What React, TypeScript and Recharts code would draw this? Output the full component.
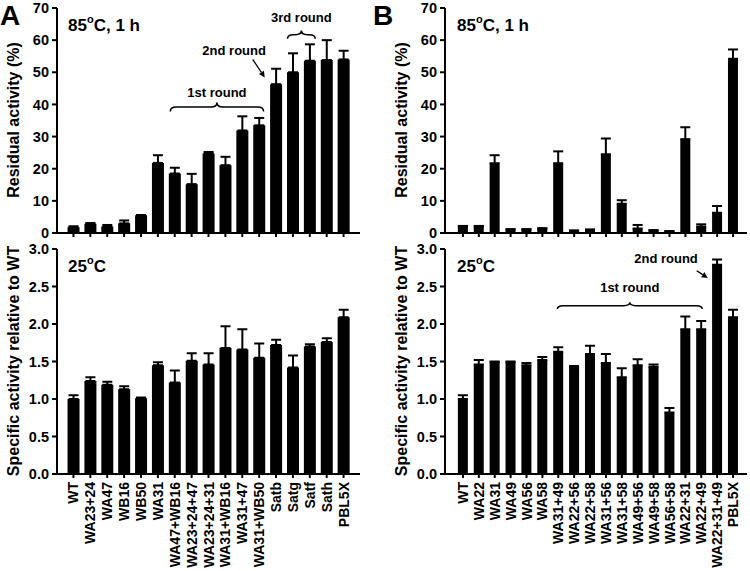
import React from "react";
import { BarChart, Bar, XAxis, YAxis, ErrorBar, ReferenceArea } from "recharts";

// panel A: variants and combinations
const namesA = ["WT", "WA23+24", "WA47", "WB16", "WB50", "WA31", "WA47+WB16", "WA23+24+47", "WA23+24+31", "WA31+WB16", "WA31+47", "WA31+WB50", "Satb", "Satg", "Satf", "Sath", "PBL5X"];
const residualA = [1.8, 2.9, 2.0, 3.0, 5.5, 21.8, 18.5, 15.2, 24.7, 21.1, 31.9, 33.5, 46.3, 50.0, 53.6, 53.8, 54.0];
const residualErrA = [0.3, 0.2, 0.5, 0.9, 0.1, 2.4, 1.8, 3.2, 0.5, 2.6, 4.4, 2.3, 4.8, 5.9, 5.1, 6.2, 2.7];
const specificA = [1.0, 1.24, 1.19, 1.13, 1.01, 1.45, 1.22, 1.51, 1.46, 1.68, 1.66, 1.55, 1.72, 1.42, 1.7, 1.76, 2.09];
const specificErrA = [0.05, 0.05, 0.04, 0.04, 0.01, 0.04, 0.16, 0.1, 0.15, 0.29, 0.27, 0.19, 0.07, 0.16, 0.03, 0.05, 0.1];

// panel B
const namesB = ["WT", "WA22", "WA31", "WA49", "WA56", "WA58", "WA31+49", "WA22+56", "WA22+58", "WA31+56", "WA31+58", "WA49+56", "WA49+58", "WA56+58", "WA22+31", "WA22+49", "WA22+31+49", "PBL5X"];
const residualB = [2.0, 2.0, 21.7, 1.1, 1.1, 1.4, 21.7, 0.7, 1.0, 24.5, 9.1, 1.4, 0.8, 0.5, 29.2, 2.0, 6.3, 54.2];
const residualErrB = [0.2, 0.2, 2.5, 0.1, 0.1, 0.1, 3.7, 0.1, 0.1, 4.9, 1.1, 1.1, 0.1, 0.1, 3.7, 0.7, 2.1, 2.9];
const specificB = [1.0, 1.46, 1.49, 1.49, 1.45, 1.52, 1.63, 1.42, 1.6, 1.48, 1.29, 1.45, 1.43, 0.82, 1.93, 1.93, 2.79, 2.09];
const specificErrB = [0.05, 0.06, 0.01, 0.01, 0.03, 0.04, 0.06, 0.02, 0.11, 0.12, 0.12, 0.08, 0.03, 0.06, 0.17, 0.11, 0.07, 0.1];

const residualTicks = [0, 10, 20, 30, 40, 50, 60, 70];
const specificTicks = [0, 0.5, 1, 1.5, 2, 2.5, 3];

const FONT = "'Liberation Sans', Arial, Helvetica, sans-serif";
const axisStyle = { stroke: "#000", strokeWidth: 2 };

const rows = (names: string[], vals: number[], errs: number[]) =>
  names.map((name, i) => ({ name, value: vals[i], err: [0, errs[i]] }));

const NoTick = () => <g />;

const RotTick = (props: any) => {
  const { x, y, payload } = props;
  return (
    <text x={x} y={y} transform={`rotate(-90, ${x}, ${y})`} textAnchor="end" dy="0.36em"
      fontSize={14} fontWeight="bold" fontFamily={FONT} fill="#000">
      {payload.value}
    </text>
  );
};

const braceShape = (label: string, inset: number, gap: number) => (p: any) => {
  const { x, y, width, height } = p;
  const x0 = x + inset;
  const x1 = x + width - inset;
  const xm = (x0 + x1) / 2;
  const yt = y;
  const yb = y + height;
  const ym = (yt + yb) / 2;
  const r = Math.min(6, (x1 - x0) / 4);
  const d = `M${x0},${yb} Q${x0},${ym} ${x0 + r},${ym} L${xm - r},${ym} Q${xm},${ym} ${xm},${yt} Q${xm},${ym} ${xm + r},${ym} L${x1 - r},${ym} Q${x1},${ym} ${x1},${yb}`;
  return (
    <g>
      <path d={d} fill="none" stroke="#000" strokeWidth={1.5} />
      <text x={xm} y={yt - gap} textAnchor="middle" fontSize={13} fontWeight="bold" fontFamily={FONT} fill="#000">
        {label}
      </text>
    </g>
  );
};

const arrowShape = (label: string, f0: number, f1: number, fText: number, gap: number) => (p: any) => {
  const { x, y, width, height } = p;
  const ax = x + f0 * width;
  const ay = y;
  const bx = x + f1 * width;
  const by = y + height;
  const ang = Math.atan2(by - ay, bx - ax);
  const c = Math.cos(ang);
  const s = Math.sin(ang);
  const hx = bx - 6 * c;
  const hy = by - 6 * s;
  const pts = `${bx},${by} ${hx + 3 * s},${hy - 3 * c} ${hx - 3 * s},${hy + 3 * c}`;
  return (
    <g>
      <line x1={ax} y1={ay} x2={hx} y2={hy} stroke="#000" strokeWidth={1.3} />
      <polygon points={pts} fill="#000" />
      <text x={x + fText * width} y={ay - gap} textAnchor="end" fontSize={13} fontWeight="bold" fontFamily={FONT} fill="#000">
        {label}
      </text>
    </g>
  );
};

interface PanelProps {
  data: { name: string; value: number; err: number[] }[];
  height: number;
  axisWidth: number;
  margin: { top: number; right: number; bottom: number; left: number };
  xHeight: number;
  padding: { left: number; right: number };
  gap: string;
  domain: number[];
  ticks: number[];
  labels?: boolean;
  decimals?: boolean;
  children?: React.ReactNode;
}

const Panel = ({ data, height, axisWidth, margin, xHeight, padding, gap, domain, ticks, labels, decimals, children }: PanelProps) => (
  <BarChart width={375} height={height} data={data} margin={margin} barCategoryGap={gap}>
    <XAxis
      dataKey="name"
      interval={0}
      height={xHeight}
      padding={padding}
      axisLine={axisStyle}
      tickLine={axisStyle}
      tickSize={4}
      tickMargin={4}
      tick={labels ? <RotTick /> : <NoTick />}
    />
    <XAxis xAxisId="top" orientation="top" dataKey="name" height={0} tick={false} tickLine={false} axisLine={axisStyle} />
    <YAxis
      width={axisWidth}
      domain={domain}
      ticks={ticks}
      allowDataOverflow
      interval={0}
      axisLine={axisStyle}
      tickLine={axisStyle}
      tickSize={5}
      tickMargin={3}
      tickFormatter={(v: number) => (decimals ? v.toFixed(1) : String(v))}
      tick={{ fill: "#000", fontSize: 14.5, fontWeight: "bold", fontFamily: FONT }}
    />
    <YAxis yAxisId="right" orientation="right" width={0} tick={false} tickLine={false} axisLine={axisStyle} />
    <Bar dataKey="value" fill="#000" isAnimationActive={false}>
      <ErrorBar dataKey="err" direction="y" width={5} strokeWidth={2} stroke="#000" />
    </Bar>
    {children}
  </BarChart>
);

const Title = ({ x, y, big, rest }: { x: number; y: number; big: string; rest: string }) => (
  <text x={x} y={y} fontSize={17} fontWeight="bold" fontFamily={FONT} fill="#000">
    {big}
    <tspan fontSize={11} dy={-8}>o</tspan>
    <tspan dy={8}>{rest}</tspan>
  </text>
);

const VLabel = ({ x, y, text }: { x: number; y: number; text: string }) => (
  <text transform={`translate(${x}, ${y}) rotate(-90)`} textAnchor="middle" dominantBaseline="central"
    fontSize={16} fontWeight="bold" fontFamily={FONT} fill="#000">
    {text}
  </text>
);

const App = () => {
  const topMarginA = { top: 8, right: 15, bottom: 0, left: 0 };
  const botMarginA = { top: 9, right: 15, bottom: 0, left: 0 };
  const topMarginB = { top: 8, right: 3, bottom: 0, left: 0 };
  const botMarginB = { top: 9, right: 3, bottom: 0, left: 0 };
  return (
    <div style={{ position: "absolute", left: 0, top: 0, width: 750, height: 571, background: "#fff", overflow: "hidden" }}>
      <div style={{ position: "absolute", left: 0, top: 0 }}>
        <Panel data={rows(namesA, residualA, residualErrA)} height={240} axisWidth={57} margin={topMarginA} xHeight={7}
          padding={{ left: 8, right: 8 }} gap="15%" domain={[0, 70]} ticks={residualTicks}>
          <ReferenceArea x1="WA47+WB16" x2="WA31+WB50" y1={37.8} y2={40.6} ifOverflow="visible" shape={braceShape("1st round", 4, 6)} />
          <ReferenceArea x1="Satg" x2="Satf" y1={60.4} y2={63.0} ifOverflow="visible" shape={braceShape("3rd round", 3, 9)} />
          <ReferenceArea x1="WA31+WB50" x2="WA31+WB50" y1={48.4} y2={54.0} ifOverflow="visible" shape={arrowShape("2nd round", 0.12, 0.83, 0.9, 4)} />
        </Panel>
      </div>
      <div style={{ position: "absolute", left: 0, top: 240 }}>
        <Panel data={rows(namesA, specificA, specificErrA)} height={331} axisWidth={57} margin={botMarginA} xHeight={97}
          padding={{ left: 8, right: 8 }} gap="15%" domain={[0, 3]} ticks={specificTicks} labels decimals />
      </div>
      <div style={{ position: "absolute", left: 375, top: 0 }}>
        <Panel data={rows(namesB, residualB, residualErrB)} height={240} axisWidth={70} margin={topMarginB} xHeight={7}
          padding={{ left: 10, right: 6 }} gap="18%" domain={[0, 70]} ticks={residualTicks} />
      </div>
      <div style={{ position: "absolute", left: 375, top: 240 }}>
        <Panel data={rows(namesB, specificB, specificErrB)} height={331} axisWidth={70} margin={botMarginB} xHeight={97}
          padding={{ left: 10, right: 6 }} gap="18%" domain={[0, 3]} ticks={specificTicks} labels decimals>
          <ReferenceArea x1="WA31+49" x2="WA22+49" y1={2.2} y2={2.29} ifOverflow="visible" shape={braceShape("1st round", 7, 10)} />
          <ReferenceArea x1="WA22+49" x2="WA22+49" y1={2.615} y2={2.71} ifOverflow="visible" shape={arrowShape("2nd round", 0.21, 0.91, 0.28, 8)} />
        </Panel>
      </div>
      <svg width={750} height={571} style={{ position: "absolute", left: 0, top: 0, pointerEvents: "none" }}>
        <text x={0} y={25} fontSize={28} fontWeight="bold" fontFamily={FONT} fill="#000">A</text>
        <text x={373} y={25} fontSize={28} fontWeight="bold" fontFamily={FONT} fill="#000">B</text>
        <Title x={68} y={31} big="85" rest="C, 1 h" />
        <Title x={457} y={31} big="85" rest="C, 1 h" />
        <Title x={68} y={272} big="25" rest="C" />
        <Title x={457} y={272} big="25" rest="C" />
        <VLabel x={13} y={120} text="Residual activity (%)" />
        <VLabel x={401} y={120} text="Residual activity (%)" />
        <VLabel x={13} y={361} text="Specific activity relative to WT" />
        <VLabel x={401} y={361} text="Specific activity relative to WT" />
      </svg>
    </div>
  );
};

export default App;
